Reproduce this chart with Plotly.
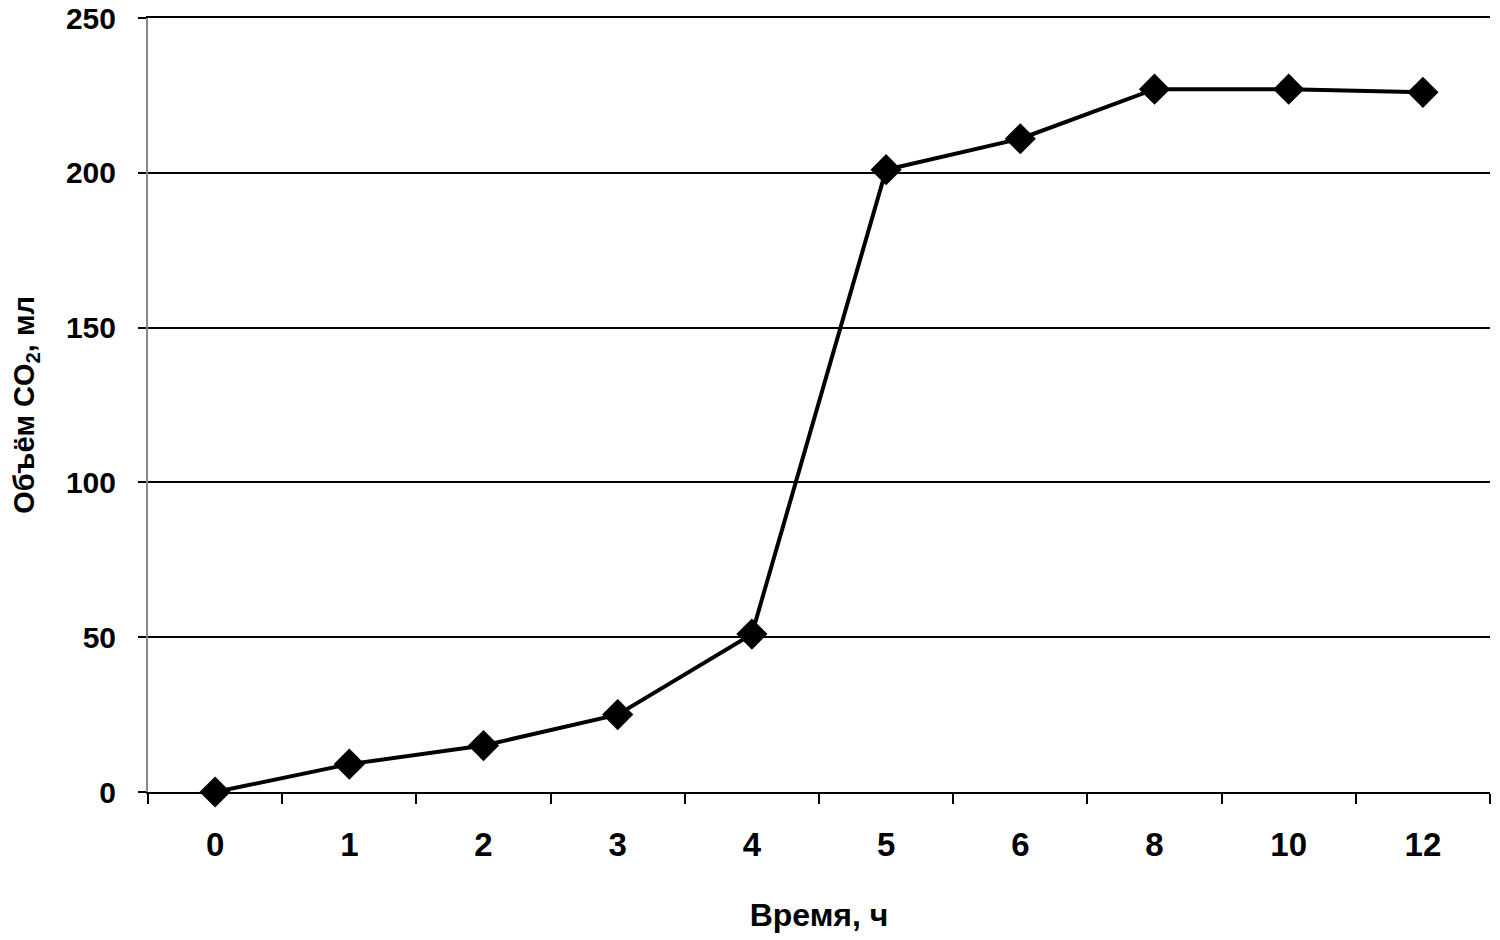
import plotly.graph_objects as go

time_labels = ["0", "1", "2", "3", "4", "5", "6", "8", "10", "12"]
co2_volume = [0, 9, 15, 25, 51, 201, 211, 227, 227, 226]

FONT = "Liberation Sans, Arial, sans-serif"

fig = go.Figure()
fig.add_trace(go.Scatter(
    x=time_labels, y=co2_volume, mode="lines+markers",
    line=dict(color="black", width=4),
    marker=dict(symbol="diamond", size=24, color="black"),
    showlegend=False, cliponaxis=False,
))

fig.update_layout(
    width=1500, height=940,
    margin=dict(l=140, r=18, t=10, b=156),
    paper_bgcolor="white", plot_bgcolor="white",
    font=dict(family=FONT, color="black"),
    xaxis=dict(
        type="category", range=[-0.5, 9.5], automargin=False,
        showgrid=False, showline=True, linecolor="black", linewidth=2, mirror=True,
        ticks="outside", tickson="boundaries", ticklen=10, tickwidth=2, tickcolor="black",
        ticklabelstandoff=22,
        tickfont=dict(size=33, family=FONT, weight="bold"),
        title=dict(text="<b>Время, ч</b>", font=dict(size=32, family=FONT), standoff=42),
    ),
    yaxis=dict(
        range=[0, 250], dtick=50, automargin=False,
        showgrid=True, gridcolor="black", gridwidth=2,
        showline=True, linecolor="#888888", linewidth=2,
        zeroline=False,
        ticks="outside", ticklen=8, tickwidth=2, tickcolor="black",
        ticklabelstandoff=16, ticklabeloverflow="allow",
        tickfont=dict(size=30, family=FONT, weight="bold"),
        title=dict(text="<b>Объём CO<sub>2</sub>, мл</b>", font=dict(size=29, family=FONT), standoff=30),
    ),
)

fig.write_html("out.html")
